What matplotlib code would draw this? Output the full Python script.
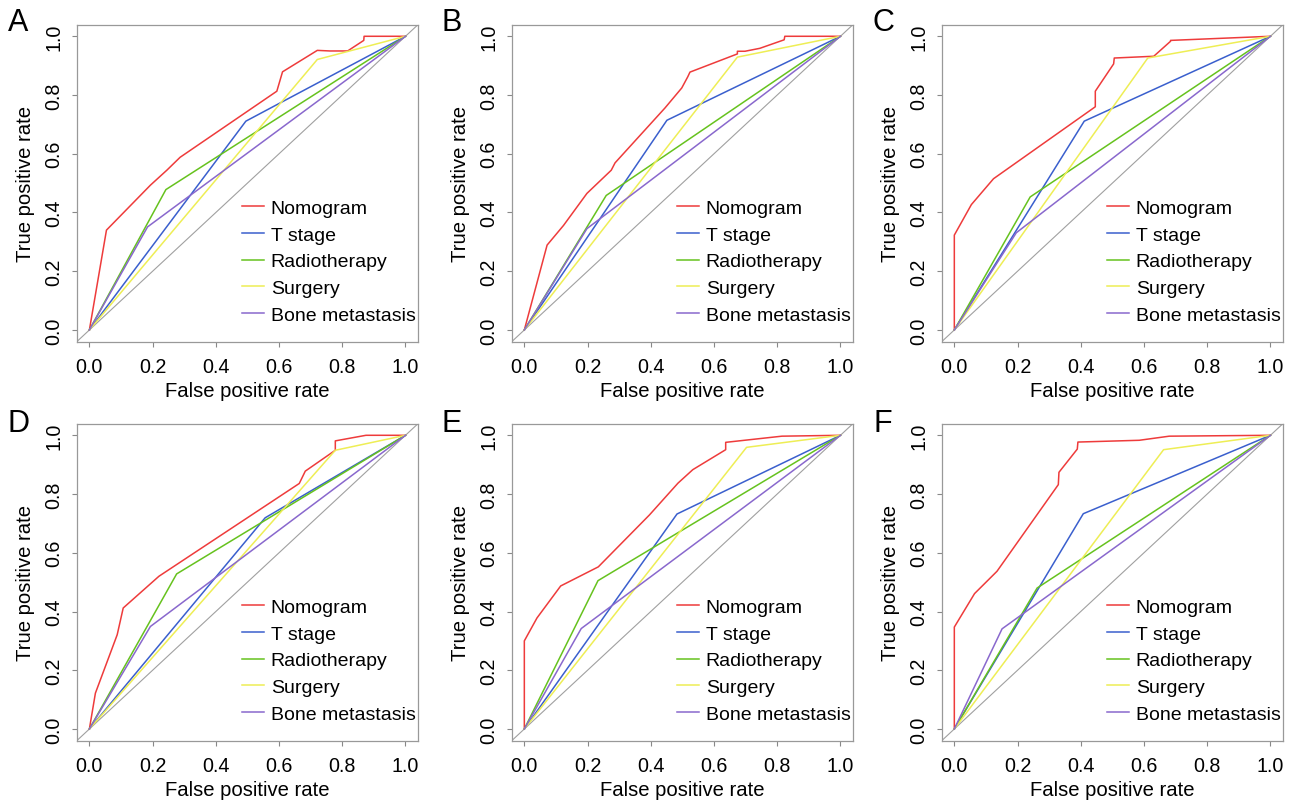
import matplotlib
matplotlib.use("Agg")
from matplotlib import pyplot as plt

plt.rcParams['font.family'] = ['Liberation Sans', 'DejaVu Sans']

panels = ["A", "B", "C", "D", "E", "F"]
models = ["Nomogram", "T stage", "Radiotherapy", "Surgery", "Bone metastasis"]
colors = ["#EE3B3B", "#3A5FCD", "#66C21E", "#EEEE55", "#8968CD"]

# ROC points (false positive rate, true positive rate)
nomogram_fpr = {
    "A": [0, 0.054, 0.193, 0.245, 0.287, 0.593, 0.611, 0.721, 0.761, 0.817, 0.868, 0.869, 1],
    "B": [0, 0.072, 0.124, 0.198, 0.275, 0.287, 0.445, 0.498, 0.517, 0.524, 0.674, 0.674, 0.698, 0.745, 0.822, 0.824, 1],
    "C": [0, 0, 0.054, 0.124, 0.446, 0.446, 0.504, 0.506, 0.631, 0.684, 0.684, 1],
    "D": [0, 0.019, 0.088, 0.107, 0.220, 0.664, 0.683, 0.778, 0.778, 0.875, 1],
    "E": [0, 0, 0.040, 0.115, 0.234, 0.396, 0.486, 0.533, 0.637, 0.637, 0.815, 1],
    "F": [0, 0, 0.064, 0.135, 0.329, 0.331, 0.389, 0.391, 0.585, 0.680, 1],
}
nomogram_tpr = {
    "A": [0, 0.340, 0.493, 0.544, 0.588, 0.813, 0.879, 0.952, 0.950, 0.950, 0.986, 1, 1],
    "B": [0, 0.289, 0.356, 0.465, 0.544, 0.569, 0.756, 0.824, 0.862, 0.878, 0.940, 0.949, 0.949, 0.959, 0.988, 1, 1],
    "C": [0, 0.323, 0.427, 0.515, 0.760, 0.813, 0.906, 0.926, 0.932, 0.983, 0.986, 1],
    "D": [0, 0.122, 0.321, 0.412, 0.520, 0.836, 0.878, 0.949, 0.981, 1, 1],
    "E": [0, 0.300, 0.378, 0.487, 0.552, 0.729, 0.837, 0.883, 0.951, 0.976, 0.997, 1],
    "F": [0, 0.347, 0.461, 0.537, 0.832, 0.874, 0.953, 0.977, 0.983, 0.997, 1],
}

# single-variable models have one cut point each: (fpr, tpr)
tstage_cut = {"A": (0.495, 0.711), "B": (0.451, 0.714), "C": (0.411, 0.711),
              "D": (0.556, 0.719), "E": (0.483, 0.732), "F": (0.408, 0.733)}
radio_cut = {"A": (0.242, 0.478), "B": (0.259, 0.458), "C": (0.240, 0.453),
             "D": (0.276, 0.528), "E": (0.233, 0.505), "F": (0.262, 0.480)}
surgery_cut = {"A": (0.721, 0.921), "B": (0.674, 0.929), "C": (0.612, 0.926),
               "D": (0.778, 0.949), "E": (0.703, 0.959), "F": (0.662, 0.951)}
bone_cut = {"A": (0.184, 0.351), "B": (0.198, 0.345), "C": (0.196, 0.331),
            "D": (0.193, 0.349), "E": (0.180, 0.342), "F": (0.151, 0.341)}

ticks = [0, 0.2, 0.4, 0.6, 0.8, 1.0]
tick_labels = ["0.0", "0.2", "0.4", "0.6", "0.8", "1.0"]

fig = plt.figure(figsize=(13.03, 8.03), dpi=100)

lefts = [0.0589, 0.3927, 0.7227]
bottoms = [0.5732, 0.0763]
w, h = 0.262, 0.3950
letter_x = [8 / 1303, 442 / 1303, 873 / 1303]
letter_y = [1 - 8 / 803, 1 - 409 / 803]

for i, p in enumerate(panels):
    r, c = divmod(i, 3)
    ax = fig.add_axes([lefts[c], bottoms[r], w, h])

    ax.plot([-0.04, 1.04], [-0.04, 1.04], color="#A0A0A0", lw=0.8)

    curves = [(nomogram_fpr[p], nomogram_tpr[p])]
    for cut in (tstage_cut, radio_cut, surgery_cut, bone_cut):
        fx, ty = cut[p]
        curves.append(([0, fx, 1], [0, ty, 1]))
    for (xs, ys), name, col in zip(curves, models, colors):
        ax.plot(xs, ys, color=col, lw=1.1, label=name)

    ax.set_xlim(-0.04, 1.04)
    ax.set_ylim(-0.04, 1.04)
    ax.set_xticks(ticks)
    ax.set_xticklabels(tick_labels)
    ax.set_yticks(ticks)
    ax.set_yticklabels(tick_labels, rotation=90, va="center")
    ax.tick_params(length=3.5, width=0.8, color="#888888", labelsize=14.2)
    ax.tick_params(axis="x", pad=7.5)
    ax.tick_params(axis="y", pad=6)
    for s in ax.spines.values():
        s.set_color("#999999")
        s.set_linewidth(0.9)
    ax.set_xlabel("False positive rate", fontsize=14.6, labelpad=3.5)
    ax.set_ylabel("True positive rate", fontsize=14.6, labelpad=7)

    ax.legend(loc="upper left", bbox_to_anchor=(0.483, 0.449), frameon=False,
              fontsize=14.0, handlelength=1.17, handletextpad=0.33,
              labelspacing=0.47, borderpad=0, borderaxespad=0)

    fig.text(letter_x[c], letter_y[r], p, fontsize=22, ha="left", va="top")

fig.savefig("out.png", dpi=100)
